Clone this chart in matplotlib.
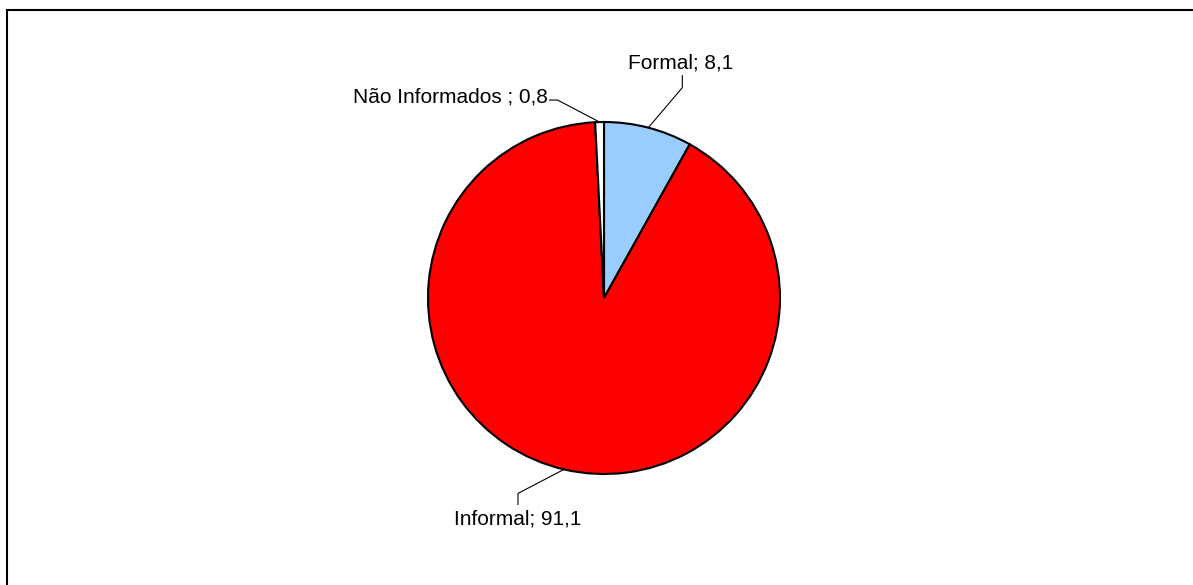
import numpy as np
import matplotlib.pyplot as plt
from matplotlib.patches import Rectangle

plt.rcParams['font.family'] = ['Liberation Sans', 'DejaVu Sans']

# data
labels = ["Formal", "Informal", "Não Informados "]
values = [8.1, 91.1, 0.8]
colors = ["#99CCFF", "#FF0000", "#FFFFFF"]

W, H = 1193, 585
fig = plt.figure(figsize=(W / 100, H / 100), dpi=100)
ax = fig.add_axes([0, 0, 1, 1])

cx, cy, r = 604, H - 298, 176
wedges, _ = ax.pie(values, colors=colors, startangle=90, counterclock=False,
                   center=(cx, cy), radius=r, frame=True,
                   wedgeprops=dict(edgecolor="black", linewidth=1.5))
ax.set_xlim(0, W)
ax.set_ylim(0, H)
ax.set_aspect("equal")
ax.axis("off")

# chart frame (runs off the right and bottom of the picture)
ax.add_patch(Rectangle((7, -20), W + 20, H - 10 + 20, fill=False,
                       edgecolor="black", linewidth=1.5))

# label placement: elbow offset from edge, end offset from elbow, text pad
layout = {
    0: dict(elbow=(34, 40), end=(0, 12), ha="center", va="bottom", pad=(-2, 3)),
    1: dict(elbow=(-46, -24), end=(0, -11), ha="center", va="top", pad=(0, -5)),
    2: dict(elbow=(-42, 22), end=(-8, 0), ha="right", va="center", pad=(-2, 3)),
}

for i, w in enumerate(wedges):
    mid = np.deg2rad((w.theta1 + w.theta2) / 2)
    px, py = cx + r * np.cos(mid), cy + r * np.sin(mid)
    L = layout[i]
    ex, ey = px + L["elbow"][0], py + L["elbow"][1]
    tx, ty = ex + L["end"][0], ey + L["end"][1]
    ax.plot([px, ex, tx], [py, ey, ty], color="black", linewidth=0.8)
    txt = f"{labels[i]}; {values[i]:.1f}".replace(".", ",")
    ax.text(tx + L["pad"][0], ty + L["pad"][1], txt, ha=L["ha"], va=L["va"],
            fontsize=15, color="black")

fig.savefig("out.png", dpi=100)
